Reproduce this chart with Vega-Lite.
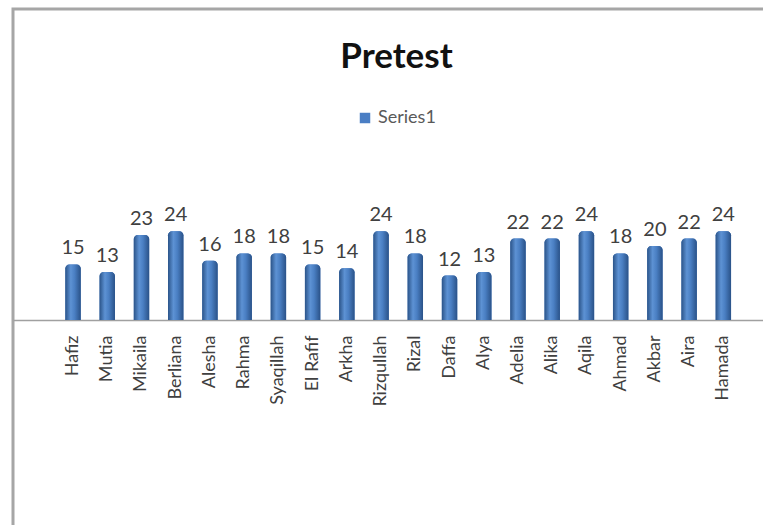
{
  "$schema": "https://vega.github.io/schema/vega-lite/v6.json",
  "autosize": "none",
  "width": 753,
  "height": 560,
  "padding": {"left": 13, "top": 9, "right": 0, "bottom": 0},
  "background": "white",
  "title": {
    "text": "Pretest",
    "font": "Lato",
    "fontSize": 35,
    "fontWeight": "bold",
    "color": "#111111",
    "anchor": "middle",
    "frame": "group",
    "baseline": "alphabetic",
    "offset": -94,
    "dx": 7
  },
  "data": {
    "values": [
      {"name": "Hafiz", "score": 15},
      {"name": "Mutia", "score": 13},
      {"name": "Mikaila", "score": 23},
      {"name": "Berliana", "score": 24},
      {"name": "Alesha", "score": 16},
      {"name": "Rahma", "score": 18},
      {"name": "Syaqillah", "score": 18},
      {"name": "El Rafif", "score": 15},
      {"name": "Arkha", "score": 14},
      {"name": "Rizqullah", "score": 24},
      {"name": "Rizal", "score": 18},
      {"name": "Daffa", "score": 12},
      {"name": "Alya", "score": 13},
      {"name": "Adelia", "score": 22},
      {"name": "Alika", "score": 22},
      {"name": "Aqila", "score": 24},
      {"name": "Ahmad", "score": 18},
      {"name": "Akbar", "score": 20},
      {"name": "Aira", "score": 22},
      {"name": "Hamada", "score": 24}
    ]
  },
  "encoding": {
    "x": {
      "field": "name",
      "type": "nominal",
      "sort": null,
      "scale": {"paddingInner": 0, "paddingOuter": 1, "align": 0.627},
      "axis": {
        "title": null,
        "offset": -249,
        "labelAngle": 270,
        "labelFont": "Lato",
        "labelFontSize": 18,
        "labelColor": "#404040",
        "labelPadding": 15,
        "ticks": false,
        "domain": true,
        "domainColor": "#a0a0a0",
        "domainWidth": 1.5
      }
    },
    "y": {
      "field": "score",
      "type": "quantitative",
      "scale": {"domain": [-67.3, 84.05], "nice": false, "zero": false},
      "axis": null
    }
  },
  "layer": [
    {
      "mark": {"type": "bar", "width": {"band": 0.45}, "cornerRadiusTopLeft": 4, "cornerRadiusTopRight": 4},
      "encoding": {
        "y2": {"datum": 0},
        "color": {
          "datum": "Series1",
          "scale": {"range": ["#4a7ec4"]},
          "legend": {
            "title": null,
            "orient": "none",
            "legendX": 343,
            "legendY": 100,
            "padding": 0,
            "symbolType": "square",
            "symbolSize": 110,
            "symbolOpacity": 1,
            "labelFont": "Lato",
            "labelFontSize": 18,
            "labelColor": "#595959",
            "labelOffset": 4
          }
        }
      }
    },
    {
      "mark": {
        "type": "bar",
        "width": {"band": 0.45},
        "cornerRadiusTopLeft": 4,
        "cornerRadiusTopRight": 4,
        "fill": {
          "gradient": "linear",
          "x1": 0, "x2": 1, "y1": 0, "y2": 0,
          "stops": [
            {"offset": 0, "color": "#2b5489"},
            {"offset": 0.35, "color": "#5d92d4"},
            {"offset": 0.6, "color": "#4a7fc3"},
            {"offset": 1, "color": "#2a5288"}
          ]
        }
      },
      "encoding": {"y2": {"datum": 0}}
    },
    {
      "mark": {
        "type": "text",
        "baseline": "bottom",
        "dy": -6,
        "font": "Lato",
        "fontSize": 20,
        "color": "#404040"
      },
      "encoding": {"text": {"field": "score", "type": "quantitative"}}
    }
  ],
  "config": {
    "view": {"stroke": "#a6a6a6", "strokeWidth": 3}
  }
}
